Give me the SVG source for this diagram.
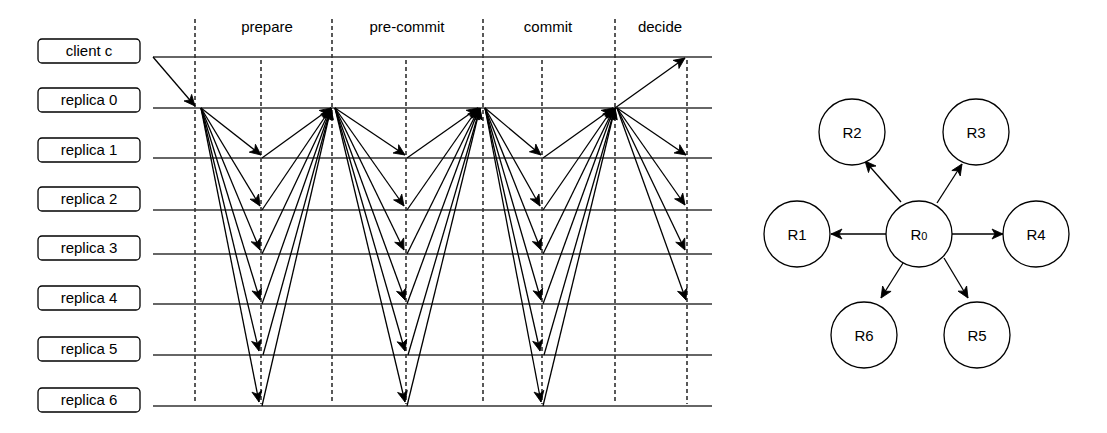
<svg xmlns="http://www.w3.org/2000/svg" width="1107" height="433" viewBox="0 0 1107 433">
<style>
text{font-family:"Liberation Sans",Arial,sans-serif;font-size:15px;fill:#000;text-anchor:middle}
.box{fill:#fff;stroke:#000;stroke-width:1.3}
.life{stroke:#333;stroke-width:1.5;fill:none}
.dash{stroke:#000;stroke-width:1.3;stroke-dasharray:4 3;fill:none}
.arr{stroke:#000;stroke-width:1.3;fill:none;marker-end:url(#ah)}
.circ{fill:#fff;stroke:#000;stroke-width:1.3}
</style>
<defs>
<marker id="ah" markerUnits="userSpaceOnUse" markerWidth="14" markerHeight="12" refX="11" refY="5" orient="auto" overflow="visible">
<path d="M0,0 L11,5 L0,10 L3,5 Z" fill="#000" stroke="#000" stroke-width="0.8"/>
</marker>
</defs>
<rect width="1107" height="433" fill="#fff"/>

<g id="phases">
<text x="267" y="32">prepare</text>
<text x="407" y="32">pre-commit</text>
<text x="548" y="32">commit</text>
<text x="660" y="32">decide</text>
</g>

<g id="dashed">
<line class="dash" x1="195" y1="19" x2="195" y2="402"/>
<line class="dash" x1="332" y1="19" x2="332" y2="402"/>
<line class="dash" x1="483" y1="19" x2="483" y2="402"/>
<line class="dash" x1="615" y1="19" x2="615" y2="402"/>
<line class="dash" x1="261" y1="60" x2="261" y2="404"/>
<line class="dash" x1="406" y1="60" x2="406" y2="404"/>
<line class="dash" x1="542" y1="60" x2="542" y2="404"/>
<line class="dash" x1="687" y1="60" x2="687" y2="404"/>
</g>

<g id="lifelines">
<line class="life" x1="153" y1="57" x2="712" y2="57"/>
<line class="life" x1="153" y1="108" x2="712" y2="108"/>
<line class="life" x1="153" y1="158" x2="712" y2="158"/>
<line class="life" x1="153" y1="210" x2="712" y2="210"/>
<line class="life" x1="153" y1="254" x2="712" y2="254"/>
<line class="life" x1="153" y1="304" x2="712" y2="304"/>
<line class="life" x1="153" y1="355" x2="712" y2="355"/>
<line class="life" x1="153" y1="406" x2="712" y2="406"/>
</g>

<g id="client-c"><rect class="box" x="38" y="39" width="102" height="24" rx="4"/><text x="89" y="56">client c</text></g>
<g id="replica-0"><rect class="box" x="38" y="88" width="102" height="24" rx="4"/><text x="89" y="105">replica 0</text></g>
<g id="replica-1"><rect class="box" x="38" y="138" width="102" height="24" rx="4"/><text x="89" y="155">replica 1</text></g>
<g id="replica-2"><rect class="box" x="38" y="187" width="102" height="24" rx="4"/><text x="89" y="204">replica 2</text></g>
<g id="replica-3"><rect class="box" x="38" y="236" width="102" height="24" rx="4"/><text x="89" y="253">replica 3</text></g>
<g id="replica-4"><rect class="box" x="38" y="286" width="102" height="24" rx="4"/><text x="89" y="303">replica 4</text></g>
<g id="replica-5"><rect class="box" x="38" y="337" width="102" height="24" rx="4"/><text x="89" y="354">replica 5</text></g>
<g id="replica-6"><rect class="box" x="38" y="388" width="102" height="24" rx="4"/><text x="89" y="405">replica 6</text></g>

<g id="connectors">
<line class="arr" x1="153" y1="57" x2="195" y2="106"/>
<!-- prepare -->
<line class="arr" x1="201" y1="108" x2="261" y2="155"/>
<line class="arr" x1="201" y1="108" x2="260" y2="206"/>
<line class="arr" x1="201" y1="108" x2="260" y2="250"/>
<line class="arr" x1="201" y1="108" x2="260" y2="300"/>
<line class="arr" x1="201" y1="108" x2="259" y2="351"/>
<line class="arr" x1="201" y1="108" x2="259" y2="402"/>
<line class="arr" x1="262" y1="158" x2="331" y2="108"/>
<line class="arr" x1="262" y1="210" x2="331" y2="108"/>
<line class="arr" x1="262" y1="254" x2="331" y2="108"/>
<line class="arr" x1="262" y1="304" x2="331" y2="108"/>
<line class="arr" x1="263" y1="355" x2="331" y2="108"/>
<line class="arr" x1="262" y1="406" x2="331" y2="108"/>
<!-- pre-commit -->
<line class="arr" x1="335" y1="108" x2="405" y2="155"/>
<line class="arr" x1="335" y1="108" x2="404" y2="206"/>
<line class="arr" x1="335" y1="108" x2="404" y2="250"/>
<line class="arr" x1="335" y1="108" x2="405" y2="300"/>
<line class="arr" x1="335" y1="108" x2="405" y2="351"/>
<line class="arr" x1="335" y1="108" x2="405" y2="402"/>
<line class="arr" x1="407" y1="158" x2="478" y2="108"/>
<line class="arr" x1="407" y1="210" x2="478" y2="108"/>
<line class="arr" x1="407" y1="254" x2="479" y2="108"/>
<line class="arr" x1="407" y1="304" x2="479" y2="108"/>
<line class="arr" x1="408" y1="355" x2="480" y2="108"/>
<line class="arr" x1="407" y1="406" x2="480" y2="108"/>
<!-- commit -->
<line class="arr" x1="485" y1="108" x2="541" y2="155"/>
<line class="arr" x1="485" y1="108" x2="540" y2="206"/>
<line class="arr" x1="485" y1="108" x2="541" y2="250"/>
<line class="arr" x1="485" y1="108" x2="541" y2="300"/>
<line class="arr" x1="485" y1="108" x2="540" y2="351"/>
<line class="arr" x1="485" y1="108" x2="541" y2="402"/>
<line class="arr" x1="543" y1="158" x2="613" y2="108"/>
<line class="arr" x1="543" y1="210" x2="613" y2="108"/>
<line class="arr" x1="543" y1="254" x2="614" y2="108"/>
<line class="arr" x1="543" y1="304" x2="614" y2="108"/>
<line class="arr" x1="544" y1="355" x2="615" y2="108"/>
<line class="arr" x1="543" y1="406" x2="615" y2="108"/>
<!-- decide -->
<line class="arr" x1="615" y1="108" x2="685" y2="58"/>
<line class="arr" x1="617" y1="108" x2="686" y2="155"/>
<line class="arr" x1="617" y1="108" x2="685" y2="205"/>
<line class="arr" x1="617" y1="108" x2="685" y2="250"/>
<line class="arr" x1="617" y1="108" x2="686" y2="300"/>
<!-- star graph -->
<line class="arr" x1="886" y1="234" x2="831" y2="234"/>
<line class="arr" x1="952" y1="234" x2="1003" y2="234"/>
<line class="arr" x1="901" y1="202" x2="865" y2="161"/>
<line class="arr" x1="937" y1="203" x2="962" y2="164"/>
<line class="arr" x1="903" y1="263" x2="881" y2="298"/>
<line class="arr" x1="944" y1="258" x2="968" y2="298"/>
</g>

<g id="R0"><circle class="circ" cx="919" cy="234" r="33"/><text x="919" y="239.5">R<tspan font-size="11">0</tspan></text></g>
<g id="R1"><circle class="circ" cx="797" cy="234" r="33"/><text x="797" y="239.5">R1</text></g>
<g id="R2"><circle class="circ" cx="852" cy="132" r="33"/><text x="852" y="137.5">R2</text></g>
<g id="R3"><circle class="circ" cx="976" cy="132" r="33"/><text x="976" y="137.5">R3</text></g>
<g id="R4"><circle class="circ" cx="1036" cy="234" r="33"/><text x="1036" y="239.5">R4</text></g>
<g id="R5"><circle class="circ" cx="977" cy="335" r="33"/><text x="977" y="340.5">R5</text></g>
<g id="R6"><circle class="circ" cx="864" cy="335" r="33"/><text x="864" y="340.5">R6</text></g>
</svg>
